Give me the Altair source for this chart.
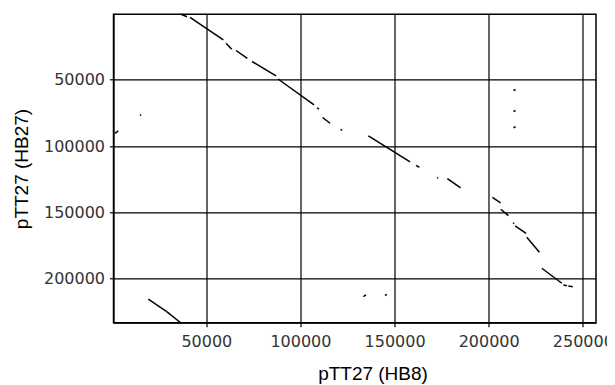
import altair as alt
import pandas as pd

# Alignment segments (HB8 coordinate on x, HB27 coordinate on y)
x_start = [36556, 41338, 60467, 65780, 74282, 88097, 108815, 111742, 121306, 136078,
           161423, 172576, 178055, 201964, 206428, 212960, 214020, 220244, 228214, 239691, 242300,
           1487, 14771, 213186, 213186, 213186, 133421, 144956, 19181, 28958]
x_end   = [39744, 59032, 63496, 71785, 87034, 107226, 109878, 115727, 122103, 158235,
           163176, 173107, 185069, 206322, 210466, 213491, 219869, 226939, 238841, 241600, 244686,
           3240, 15300, 214249, 214249, 214249, 134855, 145860, 28958, 36025]
y_start = [704, 2965, 22563, 27990, 36281, 49472, 71175, 78491, 87537, 92435,
           114520, 123716, 124620, 138791, 147685, 157786, 160273, 168790, 192157, 204745, 205600,
           90400, 76980, 57386, 73968, 86255, 213563, 212813, 215523, 224869]
y_end   = [2513, 20075, 27085, 33869, 47207, 69069, 72305, 82863, 88291, 112011,
           116028, 124319, 131625, 142940, 152529, 158540, 165775, 180097, 203464, 205300, 206027,
           88666, 76230, 58140, 73214, 85502, 212282, 211754, 224869, 232859]

x_ticks = [50000, 100000, 150000, 200000, 250000]
y_ticks = [50000, 100000, 150000, 200000]

df = pd.DataFrame({"x": x_start, "x2": x_end, "y": y_start, "y2": y_end})

label_font = "DejaVu Sans"
title_font = "Liberation Sans"

chart = alt.Chart(df).mark_rule(color="black", strokeWidth=1.5).encode(
    x=alt.X("x:Q", scale=alt.Scale(domain=[690, 257000], nice=False, zero=False),
            axis=alt.Axis(values=x_ticks, title="pTT27 (HB8)", format="d",
                          titleX=259)),
    x2="x2:Q",
    y=alt.Y("y:Q", scale=alt.Scale(domain=[704, 233200], nice=False, zero=False, reverse=True),
            axis=alt.Axis(values=y_ticks, title="pTT27 (HB27)", format="d")),
    y2="y2:Q",
).properties(
    width=482.5,
    height=308.4,
    autosize=alt.AutoSizeParams(type="none"),
    padding={"left": 105.5, "top": 6.3, "right": 11, "bottom": 62},
).configure_axis(
    grid=True,
    gridColor="black",
    gridOpacity=1,
    gridWidth=1.2,
    domainColor="black",
    domainWidth=1.2,
    tickColor="black",
    tickSize=4,
    tickWidth=1.2,
    labelFont=label_font,
    labelFontSize=16,
    labelColor="#333333",
    labelPadding=5,
    titleFont=title_font,
    titleFontSize=19,
    titleFontWeight="normal",
    titleColor="black",
).configure_axisX(
    labelPadding=7,
    titlePadding=15,
).configure_axisY(
    titlePadding=12,
).configure_view(
    stroke="black",
    strokeWidth=1.5,
)

chart.save("out.html", embed_options={"renderer": "svg", "actions": False})
